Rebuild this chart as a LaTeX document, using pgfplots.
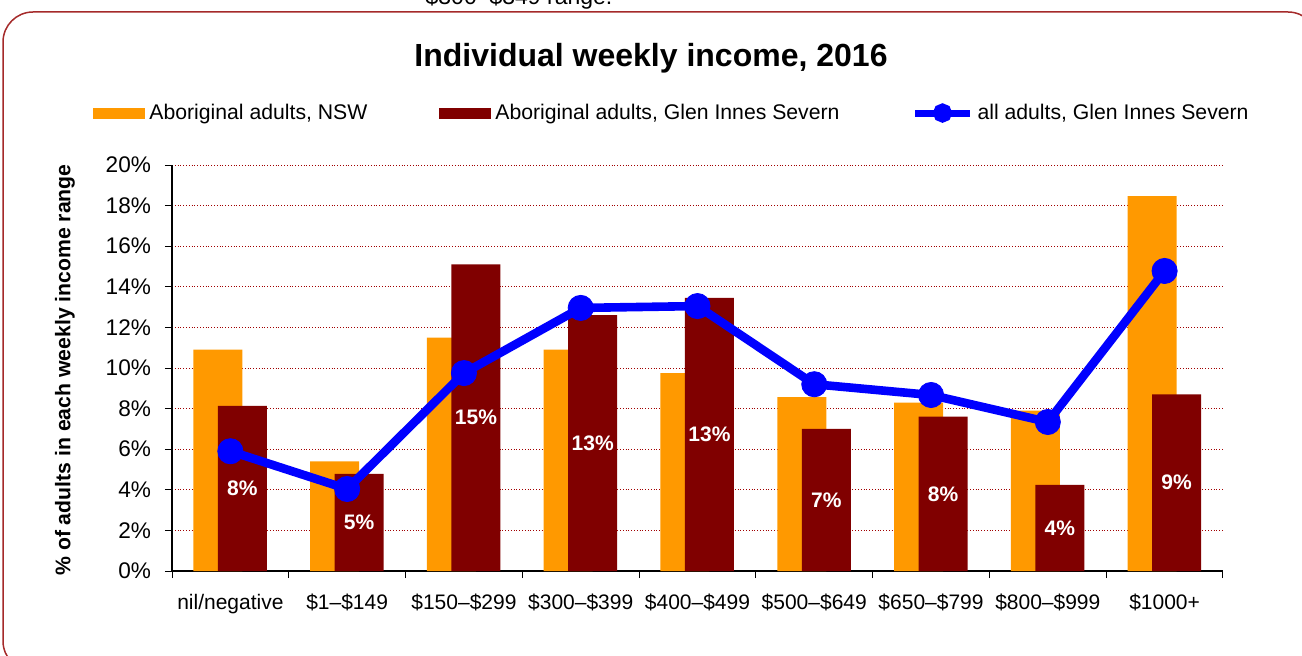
\documentclass[border=0pt]{standalone}
\usepackage{pgfplots}
\pgfplotsset{compat=1.18}
\usepackage{pgfplotstable}
\usepackage{fontspec}
\setmainfont{Liberation Sans}
\definecolor{orangeC}{HTML}{FF9900}
\definecolor{darkredC}{HTML}{800000}
\definecolor{blueC}{HTML}{0000FF}
\definecolor{borderC}{HTML}{A52A2A}
\definecolor{gridC}{HTML}{A00000}

\pgfplotstableread{
cat nsw gis all
0 10.9 8.13 5.9
1 5.4 4.78 4.04
2 11.5 15.1 9.75
3 10.9 12.6 12.96
4 9.75 13.45 13.05
5 8.57 7.0 9.2
6 8.3 7.6 8.67
7 7.9 4.24 7.34
8 18.47 8.7 14.78
}\datatable

\begin{document}
\begin{tikzpicture}
\useasboundingbox (0,0) rectangle (651pt,327.5pt);
\draw[borderC, line width=0.75pt, rounded corners=15pt] (1.5pt,-8pt) rectangle (659pt,321.5pt);
\node[anchor=base, font=\fontsize{11.5}{13}\selectfont, inner sep=0pt] at (259.5pt,325pt) {\$300–\$349 range.};
\node[font=\fontsize{16}{19}\selectfont\bfseries] at (325.5pt,298.5pt) {Individual weekly income, 2016};
\begin{axis}[
  at={(86pt,42pt)}, anchor=south west,
  scale only axis, width=525.5pt, height=203pt,
  xmin=-0.5, xmax=8.5, ymin=0, ymax=20,
  clip=false,
  axis lines*=left,
  axis line style={-, black, line width=0.6pt},
  tick align=outside,
  major tick length=3.5pt,
  tick style={black, line width=0.5pt},
  xtick={-0.5,0.5,...,8.5},
  x tick label as interval,
  xticklabels={nil/negative,\$1–\$149,\$150–\$299,\$300–\$399,\$400–\$499,\$500–\$649,\$650–\$799,\$800–\$999,\$1000+},
  xticklabel style={font=\fontsize{10.5}{12}\selectfont, yshift=-4.5pt},
  ytick={0,2,...,20},
  yticklabel={\pgfmathprintnumber{\tick}\%},
  /pgf/number format/assume math mode=true,
  yticklabel style={font=\fontsize{11.3}{13}\selectfont, xshift=-3.5pt},
  ymajorgrids,
  major grid style={gridC, densely dotted, line width=0.5pt},
  ylabel={\% of adults in each weekly income range},
  ylabel style={font=\fontsize{10.6}{12}\selectfont\bfseries, at={(axis description cs:-0.1018,0.495)}, anchor=center},
  legend columns=3,
  legend style={at={(axis description cs:0.4748,1.128)}, anchor=center, draw=none, fill=none, inner sep=0pt,
    font=\fontsize{10.6}{12}\selectfont,
    /tikz/every even column/.append style={column sep=36pt},
    /tikz/every odd column/.append style={column sep=2pt},
    nodes={inner sep=0pt}, cells={anchor=west}},
]
\addplot[ybar, bar width=24.5pt, bar shift=-6.25pt, fill=orangeC, draw=none,
  legend image code/.code={\fill[orangeC] (0pt,-2.75pt) rectangle (26pt,2.75pt);}]
  table[x=cat,y=nsw]{\datatable};
\addlegendentry{Aboriginal adults, NSW}
\addplot[ybar, bar width=24.5pt, bar shift=6pt, fill=darkredC, draw=none,
  legend image code/.code={\fill[darkredC] (0pt,-2.75pt) rectangle (26pt,2.75pt);}]
  table[x=cat,y=gis]{\datatable};
\addlegendentry{Aboriginal adults, Glen Innes Severn}
\addplot[blueC, line width=4.3pt, mark=*, mark size=6.3pt, mark options={line width=0.4pt, fill=blueC, draw=blueC},
  legend image code/.code={\draw[blueC, line width=3.5pt] (0pt,0pt)--(27.5pt,0pt); \fill[blueC] (13.75pt,0pt) circle (2.6pt);}]
  table[x=cat,y=all]{\datatable};
\addlegendentry{all adults, Glen Innes Severn}
\addplot[draw=none, mark=none, forget plot, point meta=\thisrow{gis},
  nodes near coords={\pgfmathprintnumber[fixed,precision=0]{\pgfplotspointmeta}\%},
  every node near coord/.append style={anchor=center, xshift=6pt, text=white, font=\fontsize{10.5}{12}\selectfont\bfseries}]
  table[x=cat, y expr=\thisrow{gis}/2]{\datatable};
\end{axis}
\end{tikzpicture}
\end{document}
